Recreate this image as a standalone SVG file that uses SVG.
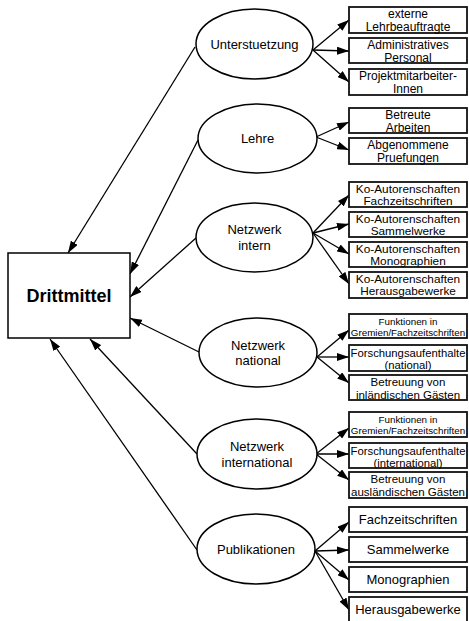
<svg xmlns="http://www.w3.org/2000/svg" width="469" height="621" viewBox="0 0 469 621">
<style>
text{font-family:"Liberation Sans",Arial,sans-serif;fill:#000;text-anchor:middle}
.e{fill:#fff;stroke:#000;stroke-width:1.5}
.b{fill:#fff;stroke:#111;stroke-width:1.8}
.m{fill:#fff;stroke:#000;stroke-width:1.5}
.t{font-size:12px}
.k{font-size:11.8px}
.g{font-size:11.5px}
.s{font-size:9.8px}
.f{font-size:11.3px}
.p{font-size:13px}
.n{font-size:13px}
#edges line{stroke:#000;stroke-width:1.3;marker-end:url(#ah)}
</style>
<defs>
<marker id="ah" markerUnits="userSpaceOnUse" markerWidth="12" markerHeight="8" refX="12" refY="4" orient="auto">
<path d="M0,0 L12,4 L0,8 z" fill="#000"/>
</marker>
</defs>
<g id="edges">
<line x1="313" y1="50" x2="349" y2="20"/>
<line x1="313" y1="50" x2="349" y2="51"/>
<line x1="313" y1="50" x2="349" y2="82"/>
<line x1="316" y1="137" x2="349" y2="122"/>
<line x1="316" y1="137" x2="349" y2="150"/>
<line x1="313" y1="233" x2="349" y2="195"/>
<line x1="313" y1="233" x2="349" y2="224"/>
<line x1="313" y1="233" x2="349" y2="254"/>
<line x1="313" y1="233" x2="349" y2="284"/>
<line x1="317" y1="357" x2="349" y2="330"/>
<line x1="317" y1="357" x2="349" y2="357"/>
<line x1="317" y1="357" x2="349" y2="383"/>
<line x1="316" y1="454" x2="349" y2="428"/>
<line x1="316" y1="454" x2="349" y2="454"/>
<line x1="316" y1="454" x2="349" y2="480"/>
<line x1="315" y1="551" x2="349" y2="522"/>
<line x1="315" y1="551" x2="349" y2="550"/>
<line x1="315" y1="551" x2="349" y2="580"/>
<line x1="315" y1="551" x2="349" y2="610"/>
<line x1="195" y1="47" x2="68" y2="253"/>
<line x1="198" y1="140" x2="130" y2="274"/>
<line x1="196" y1="238" x2="130" y2="297"/>
<line x1="199" y1="352" x2="130" y2="318"/>
<line x1="197" y1="454" x2="90" y2="339"/>
<line x1="197" y1="550" x2="50" y2="339"/>
</g>
<g id="drittmittel">
<rect class="m" x="8" y="253" width="122" height="85"/>
<text x="69" y="302" style="font-size:18px;font-weight:bold">Drittmittel</text>
</g>
<g id="unterstuetzung">
<ellipse class="e" cx="254.5" cy="44" rx="58.5" ry="35"/>
<text class="n" x="254.5" y="49">Unterstuetzung</text>
</g>
<g id="lehre">
<ellipse class="e" cx="257.5" cy="138.5" rx="59.5" ry="34.5"/>
<text class="n" x="257.5" y="143">Lehre</text>
</g>
<g id="netzwerk-intern">
<ellipse class="e" cx="254.5" cy="237.5" rx="58.5" ry="34.5"/>
<text class="n" x="254.5" y="234">Netzwerk</text>
<text class="n" x="254.5" y="250">intern</text>
</g>
<g id="netzwerk-national">
<ellipse class="e" cx="258" cy="352.5" rx="59" ry="34.5"/>
<text class="n" x="258" y="350">Netzwerk</text>
<text class="n" x="258" y="365">national</text>
</g>
<g id="netzwerk-international">
<ellipse class="e" cx="257" cy="454" rx="60" ry="35"/>
<text class="n" x="257" y="451">Netzwerk</text>
<text class="n" x="257" y="466.5">international</text>
</g>
<g id="publikationen">
<ellipse class="e" cx="256" cy="549" rx="59" ry="35"/>
<text class="n" x="256" y="554">Publikationen</text>
</g>
<g id="u1"><rect class="b" x="349" y="7" width="118" height="26"/><text class="t" x="408" y="18">externe</text><text class="t" x="408" y="30.5">Lehrbeauftragte</text></g>
<g id="u2"><rect class="b" x="349" y="38" width="118" height="25"/><text class="t" x="408" y="49">Administratives</text><text class="t" x="408" y="61.5">Personal</text></g>
<g id="u3"><rect class="b" x="349" y="69" width="118" height="26"/><text class="t" x="408" y="80">Projektmitarbeiter-</text><text class="t" x="408" y="92.5">Innen</text></g>
<g id="l1"><rect class="b" x="349" y="108" width="118" height="25"/><text class="t" x="408" y="119">Betreute</text><text class="t" x="408" y="131.5">Arbeiten</text></g>
<g id="l2"><rect class="b" x="349" y="138" width="118" height="26"/><text class="t" x="408" y="149">Abgenommene</text><text class="t" x="408" y="161.5">Pruefungen</text></g>
<g id="ni1"><rect class="b" x="349" y="182" width="118" height="25"/><text class="k" x="408" y="192.5">Ko-Autorenschaften</text><text class="k" x="408" y="205">Fachzeitschriften</text></g>
<g id="ni2"><rect class="b" x="349" y="212" width="118" height="25"/><text class="k" x="408" y="222.5">Ko-Autorenschaften</text><text class="k" x="408" y="235">Sammelwerke</text></g>
<g id="ni3"><rect class="b" x="349" y="242" width="118" height="25"/><text class="k" x="408" y="252.5">Ko-Autorenschaften</text><text class="k" x="408" y="265">Monographien</text></g>
<g id="ni4"><rect class="b" x="349" y="272" width="118" height="26"/><text class="k" x="408" y="282.5">Ko-Autorenschaften</text><text class="k" x="408" y="295">Herausgabewerke</text></g>
<g id="nn1"><rect class="b" x="349" y="314" width="118" height="24"/><text class="s" x="408" y="324.5">Funktionen in</text><text class="s" x="408" y="335.5">Gremien/Fachzeitschriften</text></g>
<g id="nn2"><rect class="b" x="349" y="345" width="118" height="26"/><text class="f" x="408" y="356.5">Forschungsaufenthalte</text><text class="f" x="408" y="368.5">(national)</text></g>
<g id="nn3"><rect class="b" x="349" y="375" width="118" height="25"/><text class="g" x="408" y="385.5">Betreuung von</text><text class="g" x="408" y="398.5">inländischen Gästen</text></g>
<g id="nx1"><rect class="b" x="349" y="412" width="118" height="25"/><text class="s" x="408" y="422.5">Funktionen in</text><text class="s" x="408" y="433.5">Gremien/Fachzeitschriften</text></g>
<g id="nx2"><rect class="b" x="349" y="443" width="118" height="25"/><text class="f" x="408" y="454.5">Forschungsaufenthalte</text><text class="f" x="408" y="466.5">(international)</text></g>
<g id="nx3"><rect class="b" x="349" y="472" width="118" height="26"/><text class="g" x="408" y="482.5">Betreuung von</text><text class="g" x="408" y="495.5" textLength="114" lengthAdjust="spacingAndGlyphs">ausländischen Gästen</text></g>
<g id="p1"><rect class="b" x="349" y="507" width="118" height="25"/><text class="p" x="408" y="524">Fachzeitschriften</text></g>
<g id="p2"><rect class="b" x="349" y="537" width="118" height="25"/><text class="p" x="408" y="554">Sammelwerke</text></g>
<g id="p3"><rect class="b" x="349" y="567" width="118" height="25"/><text class="p" x="408" y="584">Monographien</text></g>
<g id="p4"><rect class="b" x="349" y="597" width="118" height="26"/><text class="p" x="408" y="614">Herausgabewerke</text></g>
</svg>
